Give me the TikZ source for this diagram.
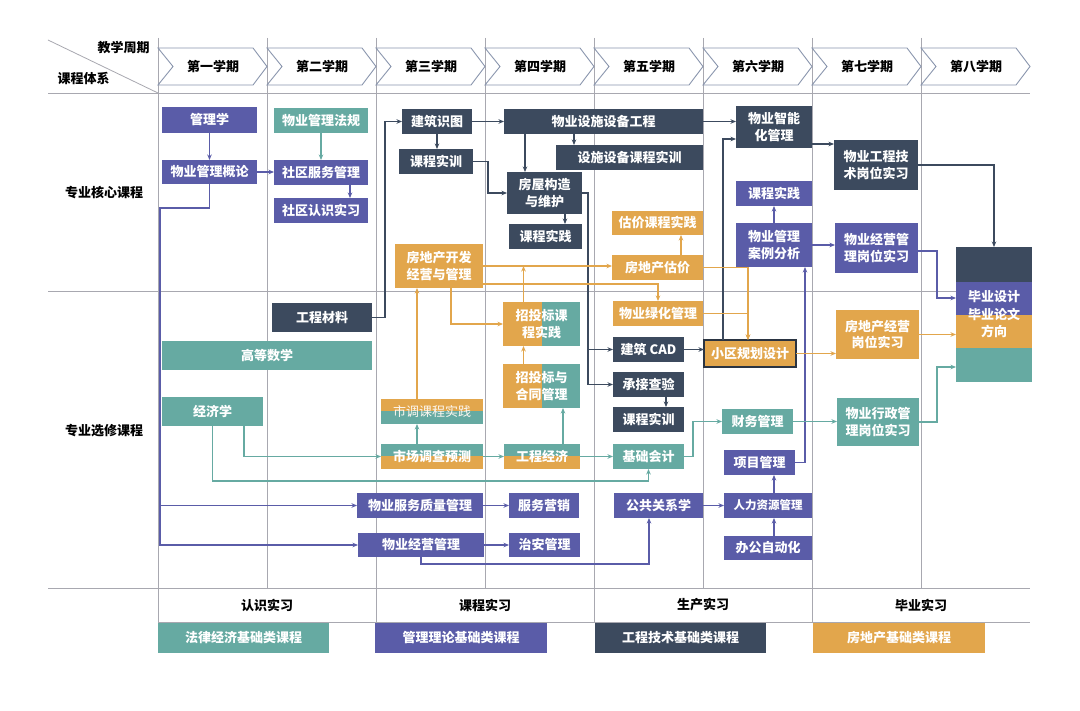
\documentclass[tikz,border=0pt]{standalone}
\usepackage{fontspec}
\setmainfont{Noto Sans CJK SC}
\usetikzlibrary{arrows.meta,calc}
\definecolor{cP}{HTML}{5A5CA8}
\definecolor{cT}{HTML}{66AAA2}
\definecolor{cD}{HTML}{3C4A5E}
\definecolor{cO}{HTML}{E2A64C}
\definecolor{cG}{HTML}{A8A8B0}
\definecolor{cC}{HTML}{8A96AE}
\newcommand\mybox[7]{\node[#2,anchor=north west,minimum width={#5-#3},minimum height={#6-#4}] (#1) at (#3,#4) {#7};}
\begin{document}
\begin{tikzpicture}[x=1pt,y=-1pt,
  bx/.style={inner sep=0pt, outer sep=0pt, text=white, font=\bfseries\fontsize{13}{16.5}\selectfont, align=center},
  pu/.style={bx, fill=cP}, te/.style={bx, fill=cT}, dk/.style={bx, fill=cD}, og/.style={bx, fill=cO},
  bOT/.style={bx, fill=cT, path picture={\fill[cO] (path picture bounding box.north west) rectangle (path picture bounding box.east);}},
  bTO/.style={bx, fill=cO, path picture={\fill[cT] (path picture bounding box.north west) rectangle (path picture bounding box.east);}},
  bOL/.style={bx, fill=cT, path picture={\fill[cO] (path picture bounding box.north west) rectangle (path picture bounding box.south);}},
  lab/.style={inner sep=0pt, font=\bfseries\fontsize{13}{16}\selectfont, text=black},
  grid/.style={draw=cG, line width=0.8pt},
  chev/.style={draw=cC, line width=0.9pt},
  ln/.style={line width=1.1pt, -{Stealth[length=5.5pt,width=4.5pt]}},
  pA/.style={ln, draw=cP}, tA/.style={ln, draw=cT}, dA/.style={ln, draw=cD}, oA/.style={ln, draw=cO}
]
\fill[white] (0,0) rectangle (1080,711);
\useasboundingbox (0,0) rectangle (1080,711);
% grid
\draw[grid] (48,40) -- (158,93);
\foreach \y in {93,291,588} {\draw[grid] (48,\y) -- (1030,\y);}
\draw[grid] (158,622) -- (1030,622);
\foreach \i in {0,2,4,6} {\draw[grid] ({158+109*\i},38) -- ({158+109*\i},622);}
\foreach \i in {1,3,5,7} {\draw[grid] ({158+109*\i},38) -- ({158+109*\i},588);}
% chevrons
\foreach \i/\t in {0/第一学期,1/第二学期,2/第三学期,3/第四学期,4/第五学期,5/第六学期,6/第七学期,7/第八学期} {
  \draw[chev] ({158+109*\i},48) -- ({253+109*\i},48) -- ({267+109*\i},66.5) -- ({253+109*\i},85) -- ({158+109*\i},85) -- ({173+109*\i},66.5) -- cycle;
  \node[lab] (h\i) at ({213+109*\i},67) {\t};
}
\node[lab] (tz) at (123.5,48) {教学周期};
\node[lab] (tk) at (83.5,79) {课程体系};
\node[lab] (rc) at (104,193) {专业核心课程};
\node[lab] (rx) at (104,431) {专业选修课程};
\node[lab] (b1) at (267,605) {认识实习};
\node[lab] (b2) at (485,605) {课程实习};
\node[lab] (b3) at (703,605) {生产实习};
\node[lab] (b4) at (921,605) {毕业实习};
% nodes
\mybox{glx}{pu}{162}{107}{257}{133}{管理学}
\mybox{gl}{pu}{162}{160}{257}{184}{物业管理概论}
\mybox{fg}{te}{274}{108}{368}{133}{物业管理法规}
\mybox{sq}{pu}{274}{160}{368}{185}{社区服务管理}
\mybox{sr}{pu}{274}{198}{368}{223}{社区认识实习}
\mybox{gcl}{dk}{272}{303}{372}{332}{工程材料}
\mybox{gs}{te}{162}{341}{372}{370}{高等数学}
\mybox{jjx}{te}{162}{397}{263}{426}{经济学}
\mybox{jz}{dk}{402}{109}{472}{134}{建筑识图}
\mybox{sx3}{dk}{399}{149}{473}{174}{课程实训}
\mybox{fk}{og}{395}{244}{483}{288}{房地产开发\\经营与管理}
\mybox{sdk}{bOT,font=\mdseries\fontsize{13}{16}\selectfont,text=white!92!cO}{381}{399}{483}{424}{市调课程实践}
\mybox{sd}{bTO}{381}{444}{483}{469}{市场调查预测}
\mybox{fq}{pu}{357}{493}{483}{518}{物业服务质量管理}
\mybox{jy}{pu}{358}{533}{484}{557}{物业经营管理}
\mybox{ss}{dk}{504}{109}{703}{134}{物业设施设备工程}
\mybox{ssx}{dk}{556}{145}{703}{170}{设施设备课程实训}
\mybox{fw}{dk}{507}{172}{582}{214}{房屋构造\\与维护}
\mybox{sj4}{dk}{509}{224}{582}{249}{课程实践}
\mybox{zhk}{bOL}{503}{302}{580}{346}{招投标课\\程实践}
\mybox{zht}{bOL}{503}{364}{580}{408}{招投标与\\合同管理}
\mybox{gj}{bTO}{504}{444}{580}{469}{工程经济}
\mybox{fy}{pu}{509}{493}{579}{518}{服务营销}
\mybox{za}{pu}{509}{533}{580}{557}{治安管理}
\mybox{gjsj}{og}{612}{211}{703}{235}{估价课程实践}
\mybox{gjia}{og}{612}{255}{703}{280}{房地产估价}
\mybox{lh}{og}{613}{301}{703}{326}{物业绿化管理}
\mybox{cad}{dk}{613}{337}{684}{362}{建筑 CAD}
\mybox{cj}{dk}{613}{372}{684}{397}{承接查验}
\mybox{sx5}{dk}{613}{407}{684}{432}{课程实训}
\mybox{jk}{te}{613}{444}{684}{469}{基础会计}
\mybox{gx}{pu}{614}{493}{703}{518}{公共关系学}
\mybox{xq}{og,draw=cD!70!black,line width=1.6pt}{704}{340}{796}{367}{小区规划设计}
\mybox{zn}{dk}{736}{106}{812}{148}{物业智能\\化管理}
\mybox{sj6}{pu}{736}{181}{812}{206}{课程实践}
\mybox{al}{pu}{736}{223}{812}{267}{物业管理\\案例分析}
\mybox{cw}{te}{722}{409}{793}{434}{财务管理}
\mybox{xm}{pu}{724}{450}{795}{475}{项目管理}
\mybox{rl}{pu,font=\bfseries\fontsize{11.5}{14}\selectfont}{724}{493}{812}{518}{人力资源管理}
\mybox{bg}{pu}{724}{536}{812}{560}{办公自动化}
\mybox{gjs}{dk}{834}{140}{918}{190}{物业工程技\\术岗位实习}
\mybox{jgs}{pu}{835}{223}{918}{273}{物业经营管\\理岗位实习}
\mybox{fzx}{og}{836}{310}{919}{359}{房地产经营\\岗位实习}
\mybox{xz}{te}{837}{398}{919}{446}{物业行政管\\理岗位实习}
\mybox{grad}{bx,font=\bfseries\fontsize{13}{17.5}\selectfont,path picture={
  \fill[cT] (path picture bounding box.north west) rectangle (path picture bounding box.south east);
  \fill[cD] (path picture bounding box.north west) rectangle ($(path picture bounding box.north east)!0.26!(path picture bounding box.south east)$);
  \fill[cP] ($(path picture bounding box.north west)!0.26!(path picture bounding box.south west)$) rectangle ($(path picture bounding box.north east)!0.504!(path picture bounding box.south east)$);
  \fill[cO] ($(path picture bounding box.north west)!0.504!(path picture bounding box.south west)$) rectangle ($(path picture bounding box.north east)!0.748!(path picture bounding box.south east)$);
}}{956}{247}{1032}{382}{毕业设计\\毕业论文\\方向}
% legend
\mybox{lg1}{te}{158}{623}{329}{653}{法律经济基础类课程}
\mybox{lg2}{pu}{375}{623}{547}{653}{管理理论基础类课程}
\mybox{lg3}{dk}{595}{623}{766}{653}{工程技术基础类课程}
\mybox{lg4}{og}{813}{623}{985}{653}{房地产基础类课程}
% connectors
\coordinate (lv) at (160,208);
\draw[pA] (glx) -- (gl);
\draw[pA] (gl.east) -- (gl.east -| sq.west);
\draw[tA] (fg) -- (sq);
\draw[pA] ([xshift=29pt]sq.south) -- ([xshift=29pt]sq.south |- sr.north);
\draw[pA] (gl.south) |- (lv) |- (fq.west);
\draw[pA] (lv) |- (jy.west);
\draw[dA] (gcl.east) -- ++(13,0) |- (jz.west);
\draw[dA] (jz.south) -- (jz.south |- sx3.north);
\draw[dA] (jz.east) -- (jz.east -| ss.west);
\draw[dA] ([xshift=-29.5pt]ss.south) -- ([xshift=-29.5pt]ss.south |- ssx.north);
\draw[dA] ([xshift=-78.5pt]ss.south) -- ([xshift=-78.5pt]ss.south |- fw.north);
\draw[dA] (sx3.east) -- ++(15,0) |- (fw.west);
\draw[dA] ([xshift=20.5pt]fw.south) -- ([xshift=20.5pt]fw.south |- sj4.north);
\draw[dA] (fw.east) -- ++(6,0) |- (cad.west);
\draw[dA] (fw.east) -- ++(6,0) |- (cj.west);
\draw[dA] ([xshift=17.5pt]cj.south) -- ([xshift=17.5pt]cj.south |- sx5.north);
\draw[dA] (cad.east) -- (cad.east -| xq.west);
\draw[dA] ([xshift=-27pt]xq.north) |- ([yshift=-12pt]zn.west);
\draw[dA] (ss.east) -- (ss.east -| zn.west);
\draw[dA] ([yshift=-17pt]zn.east) -- ([yshift=-17pt]zn.east -| gjs.west);
\draw[dA] (gjs.east) -| (grad.north);
\draw[pA] (al.north) -- (al.north |- sj6.south);
\draw[pA] (xm.east) -| ([xshift=31pt]al.south);
\draw[pA] (al.east) -- (al.east -| jgs.west);
\draw[pA] ([yshift=-3pt]jgs.east) -- ++(19,0) |- ([yshift=16.5pt]grad.west);
\draw[oA] (fzx.east) -- (fzx.east -| grad.west);
\draw[tA] (xz.east) -- ++(18,0) |- ([yshift=-52.5pt]grad.west);
\draw[oA] (xq.east) -- (xq.east -| fzx.west);
\draw[tA] (cw.east) -- (cw.east -| xz.west);
\draw[tA] (jk.east) -- ++(9,0) |- (cw.west);
\draw[pA] (gx.east) -- (gx.east -| rl.west);
\draw[pA] ([xshift=6pt]rl.north) -- ([xshift=6pt]rl.north |- xm.south);
\draw[pA] ([xshift=6pt]bg.north) -- ([xshift=6pt]bg.north |- rl.south);
\draw[pA] (jy.south) -- ++(0,7) -| ([xshift=-9.5pt]gx.south);
\draw[tA] (jjx.south) -- ++(0,55) -| (jk.south);
\draw[tA] ([xshift=31.5pt]jjx.south) |- (sd.west);
\draw[tA] ([xshift=-15pt]sd.north) -- ([xshift=-15pt]sd.north |- sdk.south);
\draw[oA] ([xshift=-15pt]sdk.north) -- ([xshift=-15pt]sdk.north |- fk.south);
\draw[tA] (sd.east) -- (sd.east -| gj.west);
\draw[tA] (gj.east) -- (gj.east -| jk.west);
\draw[tA] ([xshift=21pt]gj.north) -- ([xshift=21pt]gj.north |- zht.south);
\draw[oA] ([xshift=-18pt]zht.north) -- ([xshift=-18pt]zht.north |- zhk.south);
\draw[oA] ([xshift=-18pt]zhk.north) -- ([xshift=-18pt]zhk.north |- fk.east);
\draw[oA] (fk.east) -- (fk.east -| gjia.west);
\draw[oA] ([xshift=12pt]fk.south) |- (zhk.west);
\draw[oA] ([yshift=-18pt]fk.east) -| (lh.north);
\draw[oA] ([xshift=23.5pt]gjia.north) -- ([xshift=23.5pt]gjia.north |- gjsj.south);
\draw[oA] (gjia.east) -| ([xshift=-2pt]xq.north);
\draw[oA] (lh.east) -| ([xshift=-2pt]xq.north);
\draw[pA] (fq.east) -- (fq.east -| fy.west);
\draw[pA] (jy.east) -- (jy.east -| za.west);
\end{tikzpicture}
\end{document}
